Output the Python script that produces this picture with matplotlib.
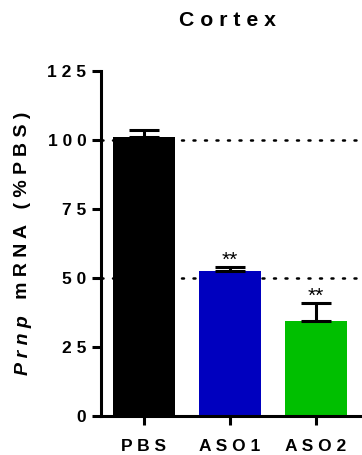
import matplotlib
matplotlib.use("Agg")
import matplotlib.pyplot as plt

# ---- data ----
categories = ["PBS", "ASO1", "ASO2"]
values = [101.2, 52.6, 34.4]
errors = [2.4, 1.5, 6.7]
colors = ["#000000", "#0000BF", "#00BF00"]
significance = ["", "**", "**"]
ref_lines = [100, 50]
yticks = [0, 25, 50, 75, 100, 125]
title = "Cortex"
ylabel_italic = "Prnp"
ylabel_rest = ["mRNA", "(%PBS)"]

def spaced(s):
    return " ".join(list(s))

plt.rcParams['font.family'] = ['Liberation Sans', 'DejaVu Sans']
plt.rcParams['font.weight'] = 'bold'

fig = plt.figure(figsize=(3.62, 4.55), dpi=100)
ax = fig.add_axes([101/362, 1-416/455, 1-101/362, (416-71)/455])

x = list(range(len(categories)))
for yv in ref_lines:
    ax.axhline(yv, color='black', lw=1.8, linestyle=(0, (0.8, 3.8)),
               dash_capstyle='round', zorder=0)

ax.bar(x, values, width=0.72, color=colors, zorder=2)
ax.errorbar(x, values, yerr=[[0]*len(errors), errors], fmt='none',
            ecolor='black', elinewidth=2.2, capsize=10.5, capthick=2.2, zorder=3)

for xi, v, e, s in zip(x, values, errors, significance):
    if s:
        ax.text(xi, v + e + 2.2, s, ha='center', va='center', fontsize=15,
                fontweight='normal', zorder=4)

ax.set_xlim(-0.5, 2.535)
ax.set_ylim(0, 125)
ax.set_yticks(yticks)
ax.set_yticklabels([spaced(str(t)) for t in yticks], fontsize=12.5, fontweight='bold')
ax.set_xticks(x)
ax.set_xticklabels([spaced(c) for c in categories], fontsize=12.5, fontweight='bold')

for sp in ['top', 'right']:
    ax.spines[sp].set_visible(False)
for sp in ['left', 'bottom']:
    ax.spines[sp].set_linewidth(2.2)
ax.tick_params(axis='both', width=2.2, length=6.5)
ax.tick_params(axis='y', pad=4)
ax.tick_params(axis='x', pad=10)

fig.text(228/362, 1-21/455, spaced(title), ha='center', va='center',
         fontsize=15.3, fontweight='bold')

# y label: italic gene name + bold rest, laid out end to end
fs_lab = 14
rest = "   ".join(spaced(w) for w in ylabel_rest)
t_it = fig.text(0, 0, spaced(ylabel_italic), rotation=90, fontsize=fs_lab,
                fontweight='bold', fontstyle='italic', ha='center', va='bottom')
t_rest = fig.text(0, 0, "   " + rest, rotation=90, fontsize=fs_lab,
                  fontweight='bold', ha='center', va='bottom')
fig.canvas.draw()
r = fig.canvas.get_renderer()
h_it = t_it.get_window_extent(r).height
h_rest = t_rest.get_window_extent(r).height
total = h_it + h_rest
cx = 23
cy_pix = (455 - 243) * 1.0
start = cy_pix - total / 2
t_it.set_position((cx / 362, start / 455))
t_rest.set_position((cx / 362, (start + h_it) / 455))

fig.savefig("out.png", dpi=100)
